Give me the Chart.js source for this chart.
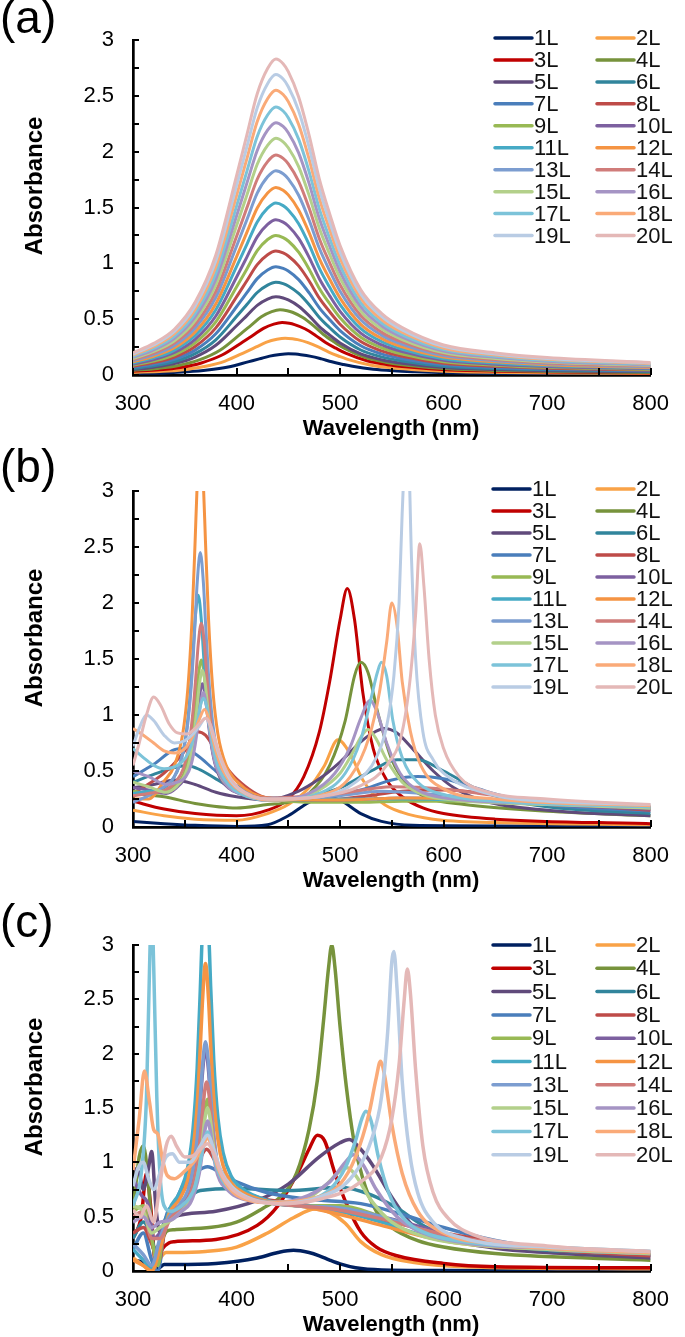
<!DOCTYPE html>
<html><head><meta charset="utf-8">
<script src="https://cdn.jsdelivr.net/npm/chart.js@4.4.1/dist/chart.umd.min.js"></script>
<style>
html,body{margin:0;padding:0;background:#fff;width:685px;height:1337px;overflow:hidden}
canvas{position:absolute;left:0}
</style></head><body>
<canvas id="ca" width="685" height="440" style="top:0px"></canvas>
<canvas id="cb" width="685" height="460" style="top:440px"></canvas>
<canvas id="cc" width="685" height="437" style="top:900px"></canvas>
<script>
const seriesNames = ['1L','2L','3L','4L','5L','6L','7L','8L','9L','10L','11L','12L','13L','14L','15L','16L','17L','18L','19L','20L'];
const seriesColors = ['#002060','#F9A247','#C00000','#77933C','#604A7B','#31859C','#4A7EBB','#BE4B48','#98B954','#7D60A0','#46AAC5','#F59443','#7C9DD0','#D07C7A','#B3D08A','#A594C4','#7CC3D9','#FAAA78','#B9CCE4','#E4B8B7'];
const xTickLabels = [300,400,500,600,700,800];
const yTickLabels = [0,0.5,1,1.5,2,2.5,3];

// ---------- panel (a) ----------
const aX  = [300,320,340,360,380,400,410,420,430,438,445,450,460,470,480,490,500,520,540,560,600,650,700,800];
const aX1 = [300,332,352,372,392,412,422,432,442,450,457,462,472,482,492,502,512,532,552,572,612,662,712,800];
const aX2 = [300,329,349,369,389,409,419,429,439,447,454,459,469,479,489,499,509,529,549,569,609,659,709,800];
const aX3 = [300,326,346,366,386,406,416,426,436,444,451,456,466,476,486,496,506,526,546,566,606,656,706,800];
const aX4 = [300,324,344,364,384,404,414,424,434,442,449,454,464,474,484,494,504,524,544,564,604,654,704,800];
const a1 = [.013,.019,.028,.044,.072,.120,.144,.169,.184,.19,.187,.182,.167,.144,.118,.097,.078,.051,.037,.029,.018,.013,.010,.008];
const a2 = [.023,.033,.048,.076,.125,.208,.251,.294,.320,.33,.325,.317,.290,.251,.205,.168,.135,.089,.064,.050,.031,.023,.018,.013];
const a3 = [.033,.047,.068,.108,.179,.296,.357,.418,.456,.47,.463,.451,.414,.357,.291,.240,.193,.127,.092,.071,.045,.033,.026,.019];
const a4 = [.041,.059,.085,.135,.222,.369,.445,.521,.567,.585,.576,.562,.515,.445,.363,.298,.240,.158,.114,.088,.056,.041,.032,.023];
const a5 = [.049,.070,.102,.161,.266,.441,.532,.623,.679,.70,.690,.672,.616,.532,.434,.357,.287,.189,.137,.105,.067,.049,.039,.028];
const a6 = [.058,.083,.120,.191,.315,.523,.631,.739,.805,.83,.818,.797,.730,.631,.515,.423,.340,.224,.162,.125,.079,.058,.046,.033];
const a7 = [.068,.097,.141,.223,.369,.611,.737,.863,.941,.97,.955,.931,.854,.737,.601,.495,.398,.262,.189,.146,.092,.068,.053,.039];
const a8 = [.078,.111,.161,.255,.422,.699,.844,.988,1.077,1.11,1.093,1.066,.977,.844,.688,.566,.455,.300,.216,.167,.105,.078,.061,.044];
const a9 = [.088,.125,.181,.288,.475,.788,.950,1.113,1.213,1.25,1.231,1.200,1.100,.950,.775,.638,.513,.338,.244,.188,.119,.088,.069,.050];
const a10 = [.097,.139,.202,.320,.528,.876,1.056,1.237,1.348,1.39,1.369,1.334,1.223,1.056,.862,.709,.570,.375,.271,.209,.132,.097,.076,.056];
const a11 = [.108,.154,.223,.354,.585,.970,1.170,1.371,1.494,1.54,1.517,1.478,1.355,1.170,.955,.785,.631,.416,.300,.231,.146,.108,.085,.062];
const a12 = [.118,.168,.244,.386,.638,1.058,1.277,1.495,1.630,1.68,1.655,1.613,1.478,1.277,1.042,.857,.689,.454,.328,.252,.160,.118,.092,.067];
const a13 = [.128,.183,.265,.421,.695,1.153,1.391,1.629,1.775,1.83,1.803,1.757,1.610,1.391,1.135,.933,.750,.494,.357,.275,.174,.128,.101,.073];
const a14 = [.138,.197,.286,.453,.749,1.241,1.497,1.753,1.911,1.97,1.940,1.891,1.734,1.497,1.221,1.005,.808,.532,.384,.296,.187,.138,.108,.079];
const a15 = [.148,.212,.307,.488,.806,1.336,1.611,1.887,2.056,2.12,2.088,2.035,1.866,1.611,1.314,1.081,.869,.572,.413,.318,.201,.148,.117,.085];
const a16 = [.158,.226,.328,.520,.859,1.424,1.718,2.011,2.192,2.26,2.226,2.170,1.989,1.718,1.401,1.153,.927,.610,.441,.339,.215,.158,.124,.090];
const a17 = [.168,.240,.348,.552,.912,1.512,1.824,2.136,2.328,2.40,2.364,2.304,2.112,1.824,1.488,1.224,.984,.648,.468,.360,.228,.168,.132,.096];
const a18 = [.179,.255,.370,.587,.969,1.607,1.938,2.270,2.474,2.55,2.512,2.448,2.244,1.938,1.581,1.301,1.046,.689,.497,.383,.242,.179,.140,.102];
const a19 = [.188,.269,.390,.619,1.022,1.695,2.044,2.394,2.609,2.69,2.650,2.582,2.367,2.044,1.668,1.372,1.103,.726,.525,.404,.256,.188,.148,.108];
const a20 = [.198,.283,.410,.651,1.075,1.783,2.151,2.519,2.745,2.83,2.788,2.717,2.490,2.151,1.755,1.443,1.160,.764,.552,.425,.269,.198,.156,.113];

// ---------- panel (b) ----------
const b1 = [[300,.05],[330,.03],[360,.015],[400,.005],[430,.02],[450,.1],[470,.22],[485,.27],[500,.24],[520,.12],[540,.05],[570,.015],[650,.01],[800,.01]];
const b2 = [[300,.15],[330,.1],[360,.07],[400,.06],[430,.12],[450,.2],[470,.35],[485,.55],[498,.78],[510,.65],[522,.42],[540,.22],[560,.13],[590,.07],[650,.04],[800,.02]];
const b3 = [[300,.23],[330,.16],[360,.12],[400,.1],[430,.15],[450,.25],[465,.45],[480,.85],[490,1.3],[500,1.85],[507,2.13],[514,1.85],[522,1.2],[532,.7],[545,.42],[560,.27],[580,.17],[600,.12],[650,.07],[800,.03]];
const b4 = [[300,.3],[330,.27],[360,.21],[400,.17],[430,.2],[450,.22],[470,.3],[490,.55],[505,.95],[514,1.35],[520,1.47],[527,1.38],[537,1.0],[550,.6],[565,.38],[585,.26],[620,.2],[700,.14],[800,.1]];
const b5 = [[300,.35],[320,.38],[340,.42],[360,.38],[380,.31],[400,.27],[430,.24],[460,.32],[480,.43],[500,.58],[520,.76],[530,.83],[543,.88],[555,.84],[570,.7],[590,.5],[610,.35],[640,.23],[700,.15],[800,.1]];
const b6 = [[300,.4],[320,.47],[340,.53],[352,.55],[365,.51],[380,.43],[400,.33],[430,.25],[470,.28],[500,.35],[530,.5],[555,.6],[575,.6],[600,.5],[630,.35],[660,.25],[700,.18],[800,.12]];
const b7 = [[300,.45],[320,.56],[340,.69],[350,.7],[362,.64],[380,.5],[400,.37],[430,.26],[480,.27],[520,.33],[550,.42],[575,.45],[600,.43],[630,.35],[660,.27],[700,.2],[800,.14]];
const b8 = [[300,.3],[330,.48],[350,.68],[362,.85],[370,.82],[385,.6],[400,.43],[430,.26],[480,.24],[520,.27],[560,.32],[600,.33],[640,.3],[680,.24],[720,.2],[800,.15]];
const b9 = [[300,.32],[315,.3],[331,.31],[341,.37],[349,.47],[354,.63],[358,.87],[361,1.14],[363,1.34],[366,1.49],[369,1.34],[371,1.14],[374,.87],[378,.63],[383,.47],[391,.37],[401,.31],[430,.25],[480,.22],[520,.22],[560,.23],[620,.23],[700,.2],[800,.17]];
const b10 = [[300,.35],[315,.33],[332,.30],[342,.35],[350,.44],[355,.57],[359,.77],[362,.99],[364,1.15],[367,1.28],[370,1.15],[372,.99],[375,.77],[379,.57],[384,.44],[392,.35],[402,.30],[430,.25],[500,.24],[560,.26],[620,.25],[700,.2],[800,.16]];
const b11 = [[300,.3],[315,.32],[328,.34],[338,.42],[346,.58],[351,.81],[355,1.16],[358,1.56],[360,1.85],[363,2.07],[366,1.85],[368,1.56],[371,1.16],[375,.81],[380,.58],[388,.42],[398,.34],[430,.25],[500,.25],[560,.25],[620,.24],[700,.21],[800,.17]];
const b12 = [[300,.25],[315,.25],[330,.41],[340,.55],[348,.83],[353,1.24],[357,1.85],[360,2.55],[362,3.06],[365,3.45],[368,3.06],[370,2.55],[373,1.85],[377,1.24],[382,.83],[390,.55],[400,.41],[430,.26],[500,.24],[560,.26],[620,.25],[700,.21],[800,.17]];
const b13 = [[300,.22],[315,.28],[330,.36],[340,.45],[348,.65],[353,.93],[357,1.35],[360,1.83],[362,2.18],[365,2.45],[368,2.18],[370,1.83],[373,1.35],[377,.93],[382,.65],[390,.45],[400,.36],[430,.25],[500,.28],[540,.32],[580,.3],[640,.25],[700,.21],[800,.17]];
const b14 = [[300,.28],[315,.3],[331,.33],[341,.40],[349,.53],[354,.73],[358,1.04],[361,1.38],[363,1.63],[366,1.82],[369,1.63],[371,1.38],[374,1.04],[378,.73],[383,.53],[391,.40],[401,.33],[430,.26],[500,.3],[550,.36],[600,.34],[650,.28],[700,.23],[800,.18]];
const b15 = [[300,.4],[315,.36],[332,.31],[342,.36],[350,.46],[355,.60],[359,.83],[362,1.08],[364,1.26],[367,1.40],[370,1.26],[372,1.08],[375,.83],[379,.60],[384,.46],[392,.36],[402,.31],[430,.24],[460,.26],[480,.33],[500,.48],[512,.66],[520,.8],[527,.87],[534,.8],[545,.6],[560,.4],[580,.29],[610,.24],[700,.2],[800,.17]];
const b16 = [[300,.5],[315,.45],[333,.38],[343,.40],[351,.45],[356,.55],[360,.73],[363,.93],[365,1.08],[368,1.2],[371,1.08],[373,.93],[376,.73],[380,.55],[385,.45],[393,.35],[403,.3],[430,.24],[470,.3],[495,.48],[510,.72],[520,.97],[529,1.13],[536,1.02],[545,.75],[558,.48],[575,.33],[600,.26],[700,.21],[800,.18]];
const b17 = [[300,.7],[310,.62],[320,.55],[330,.52],[343,.55],[351,.62],[356,.72],[360,.85],[363,.98],[365,1.08],[368,1.15],[371,1.08],[373,.95],[376,.78],[380,.6],[385,.48],[393,.37],[403,.3],[430,.24],[480,.3],[505,.48],[520,.78],[530,1.15],[536,1.38],[540,1.47],[545,1.35],[551,.95],[560,.62],[575,.4],[600,.29],[650,.23],[800,.18]];
const b18 = [[300,.88],[310,.82],[320,.75],[330,.68],[340,.66],[350,.7],[356,.78],[360,.86],[364,.96],[369,1.05],[372,1.0],[375,.88],[380,.68],[386,.52],[394,.4],[404,.32],[430,.24],[480,.28],[510,.45],[528,.8],[538,1.2],[545,1.65],[550,2.0],[555,1.8],[560,1.3],[568,.85],[578,.55],[600,.34],[650,.25],[800,.19]];
const b19 = [[300,.72],[306,.88],[313,1.0],[320,.95],[330,.82],[340,.75],[350,.77],[358,.83],[364,.9],[370,.97],[374,.92],[378,.8],[384,.62],[392,.45],[402,.34],[430,.25],[480,.27],[515,.4],[535,.62],[545,.9],[552,1.35],[557,2.0],[560,2.8],[563,3.3],[566,3.3],[569,2.4],[573,1.5],[580,.85],[590,.6],[600,.48],[650,.28],[700,.23],[800,.2]];
const b20 = [[300,.55],[306,.75],[313,1.0],[320,1.16],[327,1.08],[335,.92],[343,.84],[352,.83],[360,.88],[366,.94],[370,.97],[374,.93],[378,.82],[384,.64],[392,.47],[402,.35],[430,.25],[480,.27],[520,.37],[545,.55],[560,.85],[568,1.35],[573,1.9],[577,2.53],[581,2.15],[586,1.5],[592,1.0],[600,.7],[615,.45],[640,.32],[700,.25],[800,.2]];

// ---------- panel (c) ----------
const c1 = [[300,.1],[310,.08],[318,.02],[324,.02],[330,.06],[340,.06],[380,.07],[420,.12],[440,.17],[455,.19],[470,.17],[480,.14],[490,.1],[500,.065],[515,.03],[540,.01],[600,.005],[800,0]];
const c2 = [[300,.12],[310,.05],[318,0],[325,.1],[332,.17],[340,.17],[370,.18],[400,.22],[430,.35],[455,.49],[476,.57],[490,.54],[505,.44],[520,.27],[540,.15],[570,.08],[620,.04],[800,.02]];
const c3 = [[300,.3],[308,.5],[313,.9],[317,.6],[322,.05],[328,.2],[335,.26],[340,.27],[380,.29],[420,.42],[440,.6],[460,.92],[470,1.12],[478,1.25],[485,1.2],[495,.9],[507,.6],[520,.36],[535,.22],[555,.14],[600,.07],[650,.04],[800,.03]];
const c4 = [[300,.55],[306,1.05],[310,1.15],[315,.8],[320,.2],[326,.25],[333,.37],[340,.38],[400,.45],[426,.58],[442,.68],[458,.9],[470,1.3],[478,1.75],[484,2.3],[489,2.8],[492,3.0],[495,2.8],[500,2.25],[506,1.7],[513,1.22],[522,.85],[535,.55],[550,.4],[575,.28],[600,.22],[650,.16],[800,.1]];
const c5 = [[300,.95],[306,.9],[310,.75],[315,.95],[318,1.1],[322,.6],[326,.35],[332,.45],[340,.5],[380,.55],[420,.65],[450,.8],[480,1.05],[500,1.18],[509,1.21],[520,1.12],[531,.98],[550,.68],[570,.42],[600,.3],[650,.21],[700,.17],[800,.12]];
const c6 = [[300,.3],[310,.45],[318,.3],[324,.1],[330,.45],[340,.55],[350,.65],[365,.74],[400,.76],[450,.74],[500,.77],[530,.7],[553,.59],[584,.4],[620,.29],[660,.23],[700,.19],[800,.15]];
const c7 = [[300,.2],[310,.35],[318,.1],[324,0],[332,.5],[340,.62],[350,.82],[362,.92],[372,.96],[385,.9],[400,.82],[430,.72],[470,.66],[520,.62],[560,.52],[600,.4],[650,.28],[700,.21],[800,.15]];
const c8 = [[300,.35],[310,.4],[318,.25],[325,.1],[332,.45],[340,.6],[352,.8],[363,1.0],[371,1.12],[380,1.0],[392,.82],[420,.68],[460,.62],[500,.55],[550,.45],[600,.35],[650,.27],[700,.2],[800,.14]];
const c9 = [[300,.55],[310,.6],[318,.3],[324,.05],[330,.4],[337,.48],[347,.57],[355,.66],[360,.79],[364,.98],[367,1.23],[369,1.43],[372,1.58],[375,1.44],[377,1.26],[380,1.05],[384,.88],[389,.81],[397,.73],[407,.68],[430,.63],[460,.6],[500,.6],[540,.5],[580,.38],[620,.28],[700,.22],[800,.17]];
const c10 = [[300,.85],[308,.7],[315,.6],[320,.3],[326,.35],[335,.5],[345,.6],[353,.72],[358,.91],[362,1.18],[365,1.55],[367,1.81],[370,2.05],[373,1.84],[375,1.57],[378,1.22],[382,.95],[387,.85],[395,.75],[405,.7],[430,.63],[460,.6],[500,.57],[540,.5],[580,.4],[620,.3],[700,.21],[800,.16]];
const c11 = [[300,.2],[310,.1],[318,.02],[326,.2],[335,.56],[345,.72],[353,.96],[358,1.31],[362,1.87],[365,2.59],[367,3.14],[370,3.63],[373,3.17],[375,2.62],[378,1.94],[382,1.41],[387,1.09],[395,.87],[405,.76],[430,.65],[460,.6],[500,.55],[540,.45],[580,.33],[620,.26],[700,.2],[800,.17]];
const c12 = [[300,.1],[310,.05],[318,0],[326,.2],[335,.53],[345,.66],[353,.84],[358,1.11],[362,1.52],[365,2.06],[367,2.46],[370,2.83],[373,2.49],[375,2.09],[378,1.59],[382,1.21],[387,.97],[395,.81],[405,.73],[430,.64],[460,.6],[500,.52],[540,.42],[580,.32],[620,.25],[700,.2],[800,.16]];
const c13 = [[300,.25],[310,.15],[318,.05],[326,.3],[335,.5],[345,.61],[353,.74],[358,.93],[362,1.22],[365,1.59],[367,1.87],[370,2.11],[373,1.9],[375,1.62],[378,1.25],[382,.97],[387,.87],[395,.76],[405,.7],[430,.63],[460,.6],[500,.58],[540,.5],[580,.38],[620,.28],[700,.2],[800,.16]];
const c14 = [[300,.5],[310,.55],[318,.3],[326,.3],[336,.48],[346,.58],[354,.68],[359,.83],[363,1.04],[366,1.33],[368,1.55],[371,1.74],[374,1.58],[376,1.37],[379,1.1],[383,.91],[388,.83],[396,.74],[406,.69],[430,.63],[460,.6],[500,.56],[540,.48],[580,.38],[620,.3],[700,.22],[800,.17]];
const c15 = [[300,.6],[310,.55],[318,.35],[326,.4],[337,.47],[347,.55],[355,.64],[360,.77],[364,.95],[367,1.18],[369,1.37],[372,1.5],[375,1.37],[377,1.2],[380,1.0],[384,.85],[389,.78],[397,.71],[407,.67],[430,.63],[460,.64],[485,.78],[500,.92],[507,.95],[515,.88],[530,.65],[550,.45],[580,.32],[620,.25],[700,.2],[800,.16]];
const c16 = [[300,.45],[310,.5],[318,.4],[326,.45],[337,.47],[347,.55],[355,.62],[360,.74],[364,.9],[367,1.1],[369,1.27],[372,1.38],[375,1.27],[377,1.12],[380,.95],[384,.83],[389,.77],[397,.7],[407,.66],[430,.63],[460,.66],[490,.82],[505,1.0],[513,1.07],[522,.98],[535,.75],[555,.5],[580,.35],[620,.26],[700,.21],[800,.17]];
const c17 = [[300,.6],[308,.9],[313,1.6],[316,2.8],[318,3.4],[320,2.8],[323,1.6],[326,.9],[330,.6],[337,.55],[347,.6],[355,.68],[360,.78],[364,.95],[368,1.15],[372,1.28],[376,1.15],[380,.98],[386,.84],[395,.74],[407,.68],[430,.63],[460,.64],[490,.75],[505,.95],[515,1.2],[521,1.4],[525,1.47],[530,1.38],[537,1.05],[547,.72],[560,.5],[580,.36],[620,.27],[700,.22],[800,.18]];
const c18 = [[300,.93],[306,1.4],[311,1.84],[316,1.55],[320,1.3],[324,1.26],[328,1.05],[333,.88],[340,.85],[350,.92],[360,1.02],[366,1.13],[372,1.22],[377,1.12],[382,.95],[390,.8],[400,.7],[430,.63],[470,.66],[500,.8],[515,1.05],[528,1.45],[535,1.78],[539,1.93],[543,1.8],[550,1.35],[560,.9],[575,.55],[600,.35],[650,.25],[700,.21],[800,.17]];
const c19 = [[300,.78],[305,.95],[310,1.0],[315,.85],[320,.75],[326,.9],[332,1.05],[338,1.08],[345,1.0],[355,1.0],[365,1.15],[372,1.25],[378,1.12],[385,.92],[395,.78],[410,.68],[440,.62],[480,.68],[510,.85],[530,1.2],[540,1.6],[546,2.2],[550,2.85],[552,2.94],[555,2.6],[560,1.75],[567,1.1],[575,.72],[590,.45],[620,.3],[700,.22],[800,.18]];
const c20 = [[300,.56],[307,.5],[313,.6],[320,.45],[326,.8],[332,1.15],[337,1.24],[342,1.15],[350,1.05],[358,1.06],[365,1.12],[372,1.17],[378,1.08],[385,.9],[395,.76],[410,.67],[440,.62],[480,.66],[520,.82],[540,1.05],[550,1.4],[557,1.9],[562,2.5],[565,2.78],[568,2.55],[573,1.85],[580,1.15],[590,.72],[605,.48],[630,.33],[700,.23],[800,.18]];

const panelA = [[aX1,a1],[aX2,a2],[aX3,a3],[aX4,a4],[aX,a5],[aX,a6],[aX,a7],[aX,a8],[aX,a9],[aX,a10],[aX,a11],[aX,a12],[aX,a13],[aX,a14],[aX,a15],[aX,a16],[aX,a17],[aX,a18],[aX,a19],[aX,a20]]
  .map(([xs,ys]) => xs.map((x,i)=>[x,ys[i]]));
const panelB = [b1,b2,b3,b4,b5,b6,b7,b8,b9,b10,b11,b12,b13,b14,b15,b16,b17,b18,b19,b20];
const panelC = [c1,c2,c3,c4,c5,c6,c7,c8,c9,c10,c11,c12,c13,c14,c15,c16,c17,c18,c19,c20];

const FONT = "'Liberation Sans', Arial, sans-serif";

function makePanel(id, series, cfg) {
  const datasets = series.map((pts, i) => ({
    label: seriesNames[i],
    data: pts.map(p => ({x: p[0], y: p[1]})),
    borderColor: seriesColors[i],
    backgroundColor: seriesColors[i],
    borderWidth: cfg.lw,
    pointRadius: 0,
    fill: false,
    cubicInterpolationMode: 'monotone',
    order: series.length - i
  }));
  const canvas = document.getElementById(id);
  const H = canvas.height;
  const decor = {
    id: 'decor',
    afterDraw(chart) {
      const {ctx, chartArea: ca, scales: {x, y}} = chart;
      ctx.save();
      ctx.strokeStyle = '#000';
      ctx.lineWidth = 2;
      for (let v = 0; v <= 3.0001; v += 0.25) {
        const py = Math.round(y.getPixelForValue(v));
        ctx.beginPath(); ctx.moveTo(ca.left, py); ctx.lineTo(ca.left + 6, py); ctx.stroke();
      }
      for (let v = 300; v <= 800; v += 50) {
        const px = Math.round(x.getPixelForValue(v));
        ctx.beginPath(); ctx.moveTo(px, ca.bottom); ctx.lineTo(px, ca.bottom - 7); ctx.stroke();
      }
      // legend
      ctx.font = '22px ' + FONT;
      ctx.textBaseline = 'middle';
      ctx.textAlign = 'left';
      chart.data.datasets.forEach((ds, i) => {
        const col = i % 2, row = Math.floor(i / 2);
        const lx = cfg.legX[col];
        const ly = cfg.legY0 + row * cfg.legDY;
        ctx.strokeStyle = ds.borderColor;
        ctx.lineWidth = 3.5;
        ctx.lineCap = 'round';
        ctx.beginPath(); ctx.moveTo(lx, ly); ctx.lineTo(lx + 37, ly); ctx.stroke();
        ctx.fillStyle = '#111';
        ctx.fillText(ds.label, lx + 39, ly + 1);
      });
      // axis titles
      ctx.fillStyle = '#000';
      ctx.font = 'bold 22px ' + FONT;
      ctx.textAlign = 'center';
      ctx.textBaseline = 'middle';
      ctx.fillText('Wavelength (nm)', 391, cfg.xTitleY);
      ctx.save();
      ctx.translate(35, cfg.yTitleY);
      ctx.rotate(-Math.PI / 2);
      ctx.font = 'bold 24px ' + FONT;
      ctx.fillText('Absorbance', 0, 0);
      ctx.restore();
      // panel label
      ctx.font = '46px ' + FONT;
      ctx.textAlign = 'left';
      ctx.textBaseline = 'alphabetic';
      ctx.fillText(cfg.tag, 0, cfg.tagY);
      ctx.restore();
    }
  };
  return new Chart(canvas, {
    type: 'line',
    data: {datasets},
    options: {
      responsive: false,
      animation: false,
      events: [],
      layout: {padding: {top: cfg.top, right: 685 - 667, left: 0, bottom: 0}},
      plugins: {legend: {display: false}, tooltip: {enabled: false}},
      scales: {
        x: {
          type: 'linear', min: 300, max: 800,
          afterBuildTicks: s => { s.ticks = xTickLabels.map(v => ({value: v})); },
          ticks: {font: {family: FONT, size: 22}, color: '#000', padding: 16, maxRotation: 0, autoSkip: false, callback: v => String(v)},
          grid: {display: false, drawTicks: false},
          border: {display: true, color: '#000', width: 2.7},
          afterFit: s => { s.height = H - cfg.bottom; }
        },
        y: {
          type: 'linear', min: 0, max: 3,
          afterBuildTicks: s => { s.ticks = yTickLabels.map(v => ({value: v})); },
          ticks: {font: {family: FONT, size: 22}, color: '#000', padding: 19, callback: v => String(v)},
          grid: {display: false, drawTicks: false},
          border: {display: true, color: '#000', width: 2.7},
          afterFit: s => { s.width = 133; }
        }
      }
    },
    plugins: [decor]
  });
}

makePanel('ca', panelA, {lw: 3, top: 40, bottom: 375, legX: [495, 597], legY0: 38, legDY: 21.95, xTitleY: 429, yTitleY: 186, tag: '(a)', tagY: 33});
makePanel('cb', panelB, {lw: 3, top: 51, bottom: 387, legX: [493, 597], legY0: 49, legDY: 22, xTitleY: 441, yTitleY: 198, tag: '(b)', tagY: 42});
makePanel('cc', panelC, {lw: 3.5, top: 45, bottom: 371, legX: [493, 597], legY0: 45, legDY: 23.3, xTitleY: 425, yTitleY: 187, tag: '(c)', tagY: 37});
</script>
</body></html>
